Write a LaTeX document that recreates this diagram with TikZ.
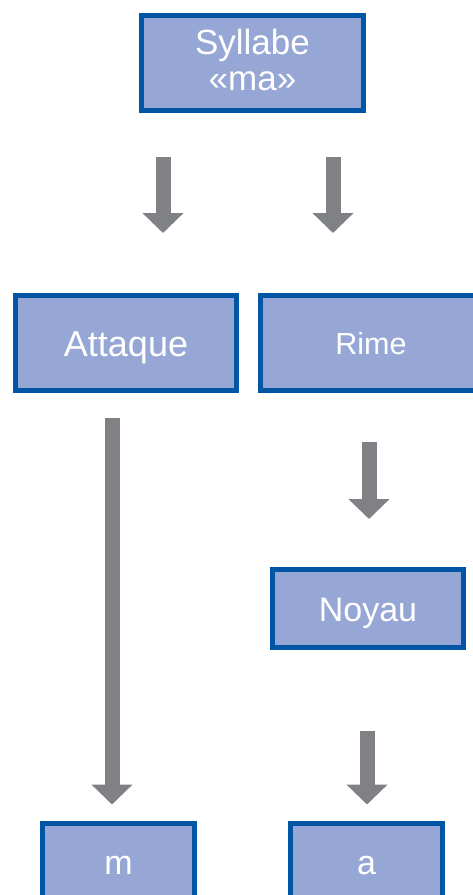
\documentclass[tikz,border=0pt]{standalone}
\usepackage{fontspec}
\setmainfont{Liberation Sans}
\usetikzlibrary{arrows.meta}
\definecolor{boxfill}{RGB}{151,167,213}
\definecolor{boxline}{RGB}{0,85,165}
\definecolor{arrgray}{RGB}{128,129,133}
\tikzset{
  box/.style={draw=boxline, fill=boxfill, line width=5pt, text=white, inner sep=0pt,
    text depth=0pt, align=center},
  bigarrow/.style={draw=arrgray, line width=15pt,
    -{Triangle[width=40pt,length=20pt,fill=arrgray]}},
}
\begin{document}
\begin{tikzpicture}[x=1pt,y=-1pt]
\useasboundingbox (0,0) rectangle (473,895);
\fill[white] (0,0) rectangle (473,895);
% boxes
\node[box, minimum width=222pt, minimum height=95pt, text height=54pt,
  font=\fontsize{35}{36}\selectfont] (syl) at (252.5,63) {Syllabe\\«ma»};
\node[box, minimum width=221pt, minimum height=95pt, text height=26pt,
  font=\fontsize{36}{40}\selectfont] (att) at (126,343) {Attaque};
\node[box, minimum width=221pt, minimum height=95pt, text height=22pt,
  font=\fontsize{30.5}{34}\selectfont] (rime) at (371,343) {Rime};
\node[box, minimum width=191pt, minimum height=78pt, text height=25pt,
  font=\fontsize{34}{38}\selectfont] (noy) at (368,608.5) {Noyau};
\node[box, minimum width=152pt, minimum height=78pt, text height=25pt,
  font=\fontsize{34}{38}\selectfont] (m) at (118.5,862) {m};
\node[box, minimum width=152pt, minimum height=78pt, text height=25pt,
  font=\fontsize{34}{38}\selectfont] (a) at (366.5,862) {a};
% arrow columns
\coordinate (c1) at (163,0);
\coordinate (c2) at (333,0);
\coordinate (c3) at (369,0);
\coordinate (c4) at (367,0);
\coordinate (c5) at (112,0);
% arrows
\draw[bigarrow, shorten <=44pt, shorten >=60pt] (syl.south -| c1) -- (att.north -| c1);
\draw[bigarrow, shorten <=44pt, shorten >=60pt] (syl.south -| c2) -- (rime.north -| c2);
\draw[bigarrow, shorten <=49pt, shorten >=48pt] (rime.south -| c3) -- (noy.north -| c3);
\draw[bigarrow, shorten <=81pt, shorten >=16pt] (noy.south -| c4) -- (a.north -| c4);
\draw[bigarrow, shorten <=25pt, shorten >=16pt] (att.south -| c5) -- (m.north -| c5);
\end{tikzpicture}
\end{document}
